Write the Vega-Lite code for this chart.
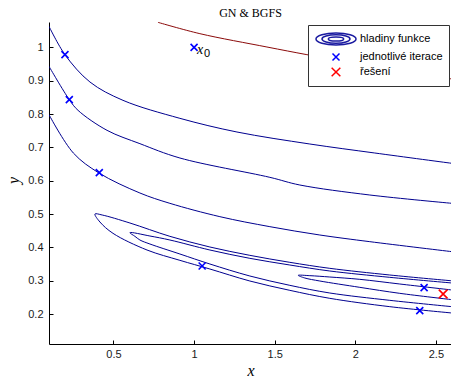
{
  "$schema": "https://vega.github.io/schema/vega-lite/v6.json",
  "autosize": {"type": "none"},
  "padding": {"left": 49, "top": 22, "right": 0, "bottom": 33},
  "width": 403,
  "height": 322,
  "background": "white",
  "view": {"stroke": null},
  "title": {"text": "GN & BGFS", "font": "Liberation Serif", "fontSize": 12, "fontWeight": "normal", "color": "black", "anchor": "middle", "frame": "group", "offset": 6, "baseline": "alphabetic", "dy": 13},
  "config": {
    "axis": {"domainColor": "black", "domainWidth": 1, "tickColor": "black", "tickSize": -4, "labelFont": "Liberation Sans", "labelFontSize": 11, "labelColor": "#1a1a1a", "grid": false, "titleFont": "Liberation Serif", "titleFontStyle": "italic", "titleFontWeight": "normal", "titleFontSize": 16, "titleColor": "black"},
    "legend": {"orient": "none", "legendX": 259, "legendY": 3, "padding": 6, "fillColor": "white", "strokeColor": "#333333", "labelFont": "Liberation Sans", "labelFontSize": 11, "labelColor": "black", "symbolSize": 196, "symbolStrokeWidth": 1.5, "rowPadding": 0, "labelOffset": 16, "symbolOffset": 14, "title": null}
  },
  "datasets": {
    "curves": [
      {"c": "R", "i": 1, "x": 0.776, "y": 1.075},
      {"c": "R", "i": 2, "x": 1.036, "y": 1.041},
      {"c": "R", "i": 3, "x": 1.452, "y": 1.001},
      {"c": "R", "i": 4, "x": 1.7, "y": 0.978},
      {"c": "R", "i": 5, "x": 2.0, "y": 0.952},
      {"c": "R", "i": 6, "x": 2.6, "y": 0.905},
      {"c": "A", "i": 0, "x": 0.1, "y": 1.063},
      {"c": "A", "i": 1, "x": 0.199, "y": 0.978},
      {"c": "A", "i": 2, "x": 0.354, "y": 0.896},
      {"c": "A", "i": 3, "x": 0.559, "y": 0.841},
      {"c": "A", "i": 4, "x": 0.912, "y": 0.787},
      {"c": "A", "i": 5, "x": 1.266, "y": 0.746},
      {"c": "A", "i": 6, "x": 1.718, "y": 0.71},
      {"c": "A", "i": 7, "x": 2.121, "y": 0.683},
      {"c": "A", "i": 8, "x": 2.6, "y": 0.652},
      {"c": "B", "i": 0, "x": 0.1, "y": 0.943},
      {"c": "B", "i": 1, "x": 0.226, "y": 0.843},
      {"c": "B", "i": 2, "x": 0.28, "y": 0.811},
      {"c": "B", "i": 3, "x": 0.46, "y": 0.751},
      {"c": "B", "i": 4, "x": 0.664, "y": 0.711},
      {"c": "B", "i": 5, "x": 0.912, "y": 0.668},
      {"c": "B", "i": 6, "x": 1.47, "y": 0.61},
      {"c": "B", "i": 7, "x": 1.656, "y": 0.587},
      {"c": "B", "i": 8, "x": 2.09, "y": 0.557},
      {"c": "B", "i": 9, "x": 2.6, "y": 0.532},
      {"c": "C", "i": 0, "x": 0.1, "y": 0.798},
      {"c": "C", "i": 1, "x": 0.251, "y": 0.683},
      {"c": "C", "i": 2, "x": 0.41, "y": 0.623},
      {"c": "C", "i": 3, "x": 0.664, "y": 0.563},
      {"c": "C", "i": 4, "x": 0.85, "y": 0.532},
      {"c": "C", "i": 5, "x": 1.16, "y": 0.492},
      {"c": "C", "i": 6, "x": 1.47, "y": 0.462},
      {"c": "C", "i": 7, "x": 1.78, "y": 0.437},
      {"c": "C", "i": 8, "x": 2.09, "y": 0.417},
      {"c": "C", "i": 9, "x": 2.6, "y": 0.387},
      {"c": "D", "i": 0, "x": 2.6, "y": 0.2995},
      {"c": "D", "i": 1, "x": 2.214, "y": 0.317},
      {"c": "D", "i": 2, "x": 1.842, "y": 0.337},
      {"c": "D", "i": 3, "x": 1.594, "y": 0.355},
      {"c": "D", "i": 4, "x": 1.346, "y": 0.376},
      {"c": "D", "i": 5, "x": 1.098, "y": 0.401},
      {"c": "D", "i": 6, "x": 0.85, "y": 0.433},
      {"c": "D", "i": 7, "x": 0.602, "y": 0.473},
      {"c": "D", "i": 8, "x": 0.43, "y": 0.497},
      {"c": "D", "i": 9, "x": 0.385, "y": 0.5},
      {"c": "D", "i": 10, "x": 0.416, "y": 0.476},
      {"c": "D", "i": 11, "x": 0.497, "y": 0.442},
      {"c": "D", "i": 12, "x": 0.708, "y": 0.392},
      {"c": "D", "i": 13, "x": 0.912, "y": 0.361},
      {"c": "D", "i": 14, "x": 1.098, "y": 0.335},
      {"c": "D", "i": 15, "x": 1.346, "y": 0.299},
      {"c": "D", "i": 16, "x": 1.594, "y": 0.271},
      {"c": "D", "i": 17, "x": 1.842, "y": 0.247},
      {"c": "D", "i": 18, "x": 2.214, "y": 0.222},
      {"c": "D", "i": 19, "x": 2.6, "y": 0.203},
      {"c": "E", "i": 0, "x": 2.6, "y": 0.293},
      {"c": "E", "i": 1, "x": 2.214, "y": 0.31},
      {"c": "E", "i": 2, "x": 1.842, "y": 0.329},
      {"c": "E", "i": 3, "x": 1.594, "y": 0.347},
      {"c": "E", "i": 4, "x": 1.346, "y": 0.367},
      {"c": "E", "i": 5, "x": 1.098, "y": 0.392},
      {"c": "E", "i": 6, "x": 0.85, "y": 0.422},
      {"c": "E", "i": 7, "x": 0.726, "y": 0.434},
      {"c": "E", "i": 8, "x": 0.602, "y": 0.444},
      {"c": "E", "i": 9, "x": 0.633, "y": 0.433},
      {"c": "E", "i": 10, "x": 0.664, "y": 0.422},
      {"c": "E", "i": 11, "x": 0.726, "y": 0.41},
      {"c": "E", "i": 12, "x": 0.912, "y": 0.38},
      {"c": "E", "i": 13, "x": 1.098, "y": 0.35},
      {"c": "E", "i": 14, "x": 1.346, "y": 0.314},
      {"c": "E", "i": 15, "x": 1.594, "y": 0.286},
      {"c": "E", "i": 16, "x": 1.842, "y": 0.263},
      {"c": "E", "i": 17, "x": 2.214, "y": 0.241},
      {"c": "E", "i": 18, "x": 2.6, "y": 0.222},
      {"c": "F", "i": 0, "x": 2.6, "y": 0.272},
      {"c": "F", "i": 1, "x": 2.276, "y": 0.29},
      {"c": "F", "i": 2, "x": 2.028, "y": 0.304},
      {"c": "F", "i": 3, "x": 1.842, "y": 0.311},
      {"c": "F", "i": 4, "x": 1.718, "y": 0.315},
      {"c": "F", "i": 5, "x": 1.646, "y": 0.316},
      {"c": "F", "i": 6, "x": 1.687, "y": 0.308},
      {"c": "F", "i": 7, "x": 1.78, "y": 0.299},
      {"c": "F", "i": 8, "x": 2.028, "y": 0.28},
      {"c": "F", "i": 9, "x": 2.276, "y": 0.262},
      {"c": "F", "i": 10, "x": 2.6, "y": 0.243}
    ],
    "points": [
      {"t": "jednotlivé iterace", "x": 1.0, "y": 1.0},
      {"t": "jednotlivé iterace", "x": 0.199, "y": 0.978},
      {"t": "jednotlivé iterace", "x": 0.226, "y": 0.843},
      {"t": "jednotlivé iterace", "x": 0.412, "y": 0.624},
      {"t": "jednotlivé iterace", "x": 1.05, "y": 0.344},
      {"t": "jednotlivé iterace", "x": 2.427, "y": 0.279},
      {"t": "jednotlivé iterace", "x": 2.4, "y": 0.21},
      {"t": "řešení", "x": 2.545, "y": 0.26}
    ],
    "lab1": [{"x": 1.0, "y": 1.0, "s": "x"}],
    "lab2": [{"x": 1.0, "y": 1.0, "s": "0"}]
  },
  "encoding": {
    "x": {"field": "x", "type": "quantitative", "scale": {"domain": [0.1, 2.6], "nice": false, "zero": false}, "axis": {"title": "x", "values": [0.5, 1, 1.5, 2, 2.5], "format": "~g", "labelPadding": 8, "titleY": 26, "titleBaseline": "middle"}},
    "y": {"field": "y", "type": "quantitative", "scale": {"domain": [0.11, 1.076], "nice": false, "zero": false}, "axis": {"title": "y", "values": [0.2, 0.3, 0.4, 0.5, 0.6, 0.7, 0.8, 0.9, 1], "format": "~g", "labelPadding": 10, "titleX": -36, "titleY": 158, "titleAngle": 270, "titleBaseline": "middle", "titleAlign": "center"}}
  },
  "layer": [
    {
      "data": {"name": "curves"},
      "mark": {"type": "line", "interpolate": "catmull-rom", "strokeWidth": 1, "clip": true},
      "encoding": {
        "detail": {"field": "c"},
        "order": {"field": "i", "type": "quantitative"},
        "stroke": {"field": "c", "type": "nominal", "scale": {"domain": ["A", "B", "C", "D", "E", "F", "R"], "range": ["#00008F", "#00008F", "#00008F", "#00008F", "#00008F", "#00008F", "#8B0A0A"]}, "legend": null}
      }
    },
    {
      "data": {"name": "points"},
      "mark": {"type": "point", "filled": false, "size": 196, "strokeWidth": 1.6, "opacity": 1},
      "encoding": {
        "color": {"field": "t", "type": "nominal", "scale": {"domain": ["hladiny funkce", "jednotlivé iterace", "řešení"], "range": ["#1a1aa0", "#0000FF", "#FF0000"]}},
        "shape": {"field": "t", "type": "nominal", "scale": {"domain": ["hladiny funkce", "jednotlivé iterace", "řešení"], "range": ["M-2.86,0A2.86,0.86,0,1,0,2.86,0A2.86,0.86,0,1,0,-2.86,0ZM-2,0A2,0.6,0,1,0,2,0A2,0.6,0,1,0,-2,0ZM-1.1,0A1.1,0.3,0,1,0,1.1,0A1.1,0.3,0,1,0,-1.1,0Z", "M-0.5,-0.5L0.5,0.5M-0.5,0.5L0.5,-0.5", "M-0.62,-0.62L0.62,0.62M-0.62,0.62L0.62,-0.62"]}}
      }
    },
    {
      "data": {"name": "lab1"},
      "mark": {"type": "text", "font": "Liberation Serif", "fontStyle": "italic", "fontSize": 14, "align": "left", "baseline": "alphabetic", "dx": 3, "dy": 7, "color": "black"},
      "encoding": {"text": {"field": "s"}}
    },
    {
      "data": {"name": "lab2"},
      "mark": {"type": "text", "font": "Liberation Sans", "fontSize": 11, "align": "left", "baseline": "alphabetic", "dx": 10, "dy": 10, "color": "black"},
      "encoding": {"text": {"field": "s"}}
    }
  ]
}
